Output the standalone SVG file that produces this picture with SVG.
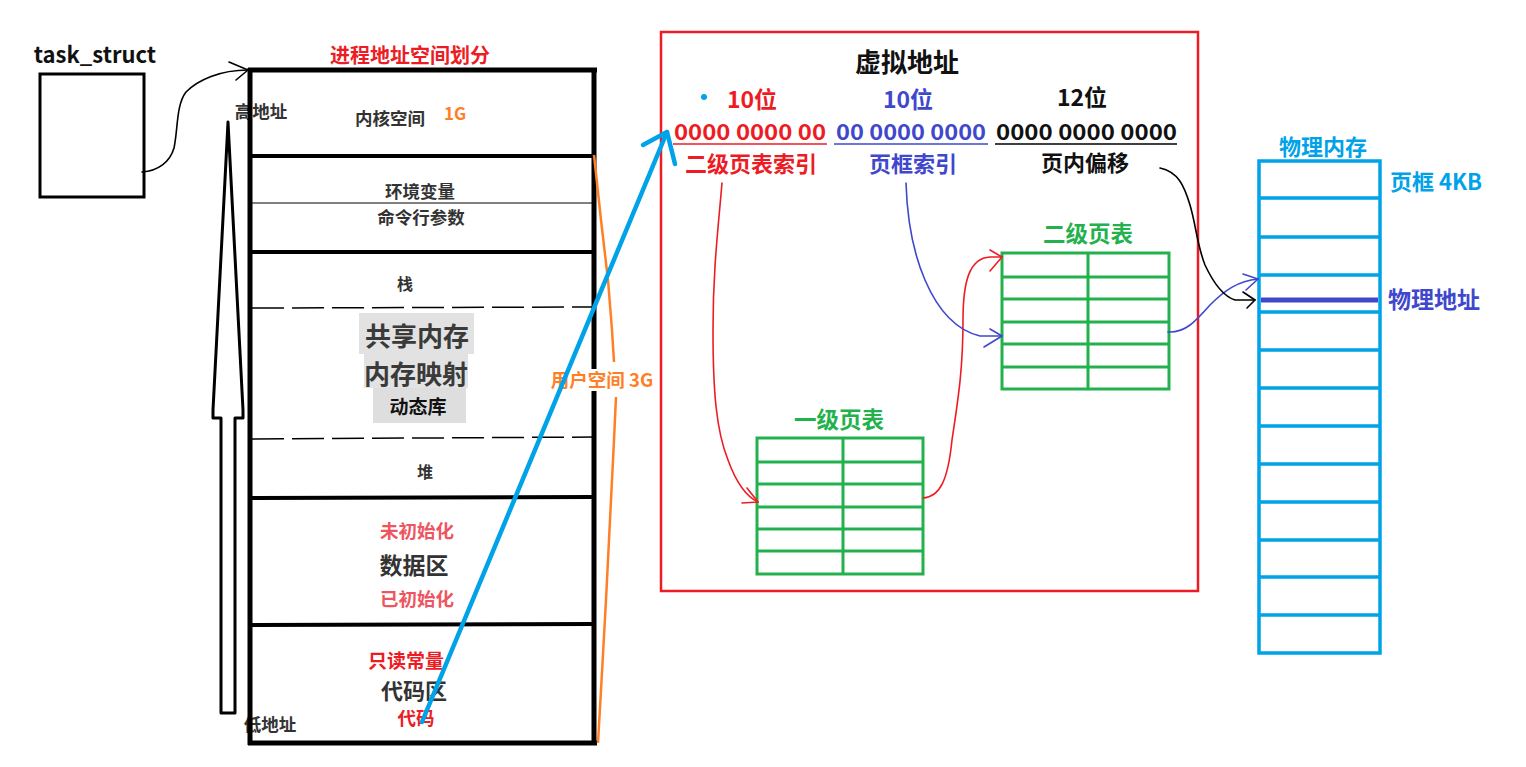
<svg xmlns="http://www.w3.org/2000/svg" width="1526" height="767" viewBox="0 0 1526 767">
<defs>
<style>
text{font-family:"Noto Sans CJK SC","Noto Sans",sans-serif;font-weight:bold;dominant-baseline:central}
.c{text-anchor:middle}
.blk{fill:#111}
.dg{fill:#333}
.red{fill:#ed1c24}
.pink{fill:#ee5560}
.blu{fill:#3f48cc}
.sky{fill:#00a2e8}
.grn{fill:#22b14c}
.org{fill:#ff7f27}
.thick{stroke:#000;stroke-width:5;fill:none}
.thin{stroke:#000;stroke-width:1.2;fill:none}
.dash{stroke:#000;stroke-width:1.5;fill:none;stroke-dasharray:32 8}
.gt{stroke:#22b14c;stroke-width:3;fill:none}
.mt{stroke:#00a2e8;stroke-width:3.5;fill:none}
.cr{fill:none;stroke-width:1.6;stroke-linecap:round;stroke-linejoin:round}
</style>
</defs>
<rect width="1526" height="767" fill="#fff"/>

<g id="task_struct">
<rect x="40" y="74" width="104" height="123" fill="none" stroke="#000" stroke-width="3"/>
<text x="95" y="53" class="c blk" font-size="22">task_struct</text>
</g>

<g id="address-arrow">
<polygon points="228,122 243,410 243,418 235,418 235,713 221,713 221,418 213,418 213,410" fill="#fff" stroke="#000" stroke-width="3" stroke-linejoin="round"/>
<text x="261" y="110" class="c dg" font-size="17.5">高地址</text>
<text x="270" y="723" class="c dg" font-size="17.5">低地址</text>
</g>

<g id="process-space">
<text x="410" y="54" class="c" fill="#ed1c24" font-size="20">进程地址空间划分</text>
<line x1="248" y1="70" x2="597" y2="70" class="thick"/>
<line x1="250" y1="68" x2="250" y2="745" class="thick"/>
<line x1="594" y1="68" x2="594" y2="745" class="thick"/>
<line x1="248" y1="743" x2="597" y2="743" class="thick"/>
<line x1="250" y1="156" x2="594" y2="156" stroke="#000" stroke-width="4"/>
<line x1="250" y1="203" x2="594" y2="203" class="thin"/>
<line x1="250" y1="252" x2="594" y2="252" stroke="#000" stroke-width="4"/>
<line x1="252" y1="308" x2="594" y2="307" class="dash"/>
<line x1="252" y1="439" x2="594" y2="437" class="dash"/>
<line x1="250" y1="498" x2="594" y2="497" stroke="#000" stroke-width="4"/>
<line x1="250" y1="625" x2="594" y2="624" stroke="#000" stroke-width="4"/>
<text x="390" y="117" class="c dg" font-size="17.5">内核空间</text>
<text x="455" y="112" class="c org" font-size="17">1G</text>
<text x="420" y="190" class="c dg" font-size="17.5">环境变量</text>
<text x="421" y="216" class="c dg" font-size="17.5">命令行参数</text>
<text x="405" y="283" class="c dg" font-size="16">栈</text>
<rect x="359" y="313" width="115" height="41" fill="#e2e2e2"/>
<rect x="364" y="354" width="104" height="34" fill="#e2e2e2"/>
<rect x="373" y="388" width="93" height="35" fill="#dedede"/>
<text x="417" y="334" class="c" fill="#3a3a3a" font-size="26">共享内存</text>
<text x="416" y="372" class="c" fill="#3a3a3a" font-size="26">内存映射</text>
<text x="418" y="405" class="c blk" font-size="19">动态库</text>
<text x="425" y="471" class="c dg" font-size="16">堆</text>
<text x="417" y="530" class="c pink" font-size="18.5" font-weight="normal">未初始化</text>
<text x="414" y="564" class="c dg" font-size="23">数据区</text>
<text x="417" y="598" class="c pink" font-size="18.5" font-weight="normal">已初始化</text>
<text x="406" y="659" class="c red" font-size="19">只读常量</text>
<text x="414" y="689" class="c dg" font-size="22">代码区</text>
<text x="416" y="717" class="c red" font-size="18.5">代码</text>
<polyline points="594,155 601,220 608,280 612,330 614,362" fill="none" stroke="#ff7f27" stroke-width="2.5"/>
<polyline points="616,397 614,440 611,500 606,600 601,690 598,743" fill="none" stroke="#ff7f27" stroke-width="2.5"/>
<rect x="549" y="369" width="106" height="22" fill="#fff"/>
<text x="602" y="379" class="c org" font-size="18.5">用户空间 3G</text>
</g>

<g id="virtual-address">
<rect x="661" y="32" width="537" height="559" fill="none" stroke="#ed1c24" stroke-width="2.5"/>
<text x="907" y="60" class="c blk" font-size="26">虚拟地址</text>
<circle cx="704" cy="97" r="3" fill="#00a2e8"/>
<text x="752" y="98" class="c red" font-size="23">10位</text>
<text x="908" y="98" class="c blu" font-size="23">10位</text>
<text x="1082" y="96" class="c blk" font-size="23">12位</text>
<text x="674" y="130" class="red" font-size="22" font-weight="500" textLength="152" lengthAdjust="spacingAndGlyphs">0000 0000 00</text>
<text x="836" y="130" class="blu" font-size="22" font-weight="500" textLength="150" lengthAdjust="spacingAndGlyphs">00 0000 0000</text>
<text x="996" y="130" class="blk" font-size="22" font-weight="500" textLength="181" lengthAdjust="spacingAndGlyphs">0000 0000 0000</text>
<line x1="673" y1="144" x2="827" y2="144" stroke="#ed1c24" stroke-width="1.5"/>
<line x1="834" y1="144" x2="988" y2="144" stroke="#3f48cc" stroke-width="1.5"/>
<line x1="995" y1="144" x2="1177" y2="144" stroke="#000" stroke-width="1.5"/>
<text x="751" y="162" class="c red" font-size="22">二级页表索引</text>
<text x="913" y="162" class="c blu" font-size="22">页框索引</text>
<text x="1085" y="161" class="c blk" font-size="22">页内偏移</text>
</g>

<g id="level1-table">
<text x="839" y="418" class="c grn" font-size="22.5">一级页表</text>
<rect x="757" y="438" width="166" height="136" class="gt"/>
<path d="M757 462H923M757 484H923M757 507H923M757 529H923M757 551H923M843 438V575" class="gt"/>
</g>

<g id="level2-table">
<text x="1088" y="232" class="c grn" font-size="22.5">二级页表</text>
<rect x="1002" y="253" width="167" height="136" class="gt"/>
<path d="M1002 277H1169M1002 299H1169M1002 322H1169M1002 344H1169M1002 367H1169M1088 253V390" class="gt"/>
</g>

<g id="physical-memory">
<text x="1323" y="145" class="c sky" font-size="22">物理内存</text>
<rect x="1259" y="161" width="121" height="492" class="mt"/>
<path d="M1259 198H1380M1259 237H1380M1259 275H1380M1259 312H1380M1259 350H1380M1259 388H1380M1259 426H1380M1259 464H1380M1259 502H1380M1259 540H1380M1259 577H1380M1259 615H1380" class="mt"/>
<line x1="1261" y1="300" x2="1378" y2="300" stroke="#3f48cc" stroke-width="5"/>
<text x="1390" y="180" class="sky" font-size="22">页框 4KB</text>
<text x="1388" y="298" class="blu" font-size="23">物理地址</text>
</g>

<g id="connectors">
<path d="M142,172 C158,171 170,162 174,148 C178,130 176,105 186,92 C198,80 220,70 248,70" class="cr" stroke="#000"/>
<path d="M229,62 L248,70 L236,80" class="cr" stroke="#000"/>
<line x1="422" y1="722" x2="667" y2="132" stroke="#00a2e8" stroke-width="4.5" stroke-linecap="round"/>
<path d="M643,145 L667,132 L675,164" fill="none" stroke="#00a2e8" stroke-width="4.5" stroke-linecap="round" stroke-linejoin="round"/>
<path d="M722,183 C718,230 713,270 713,330 C713,390 716,430 728,460 C736,482 745,496 758,502" class="cr" stroke="#ed1c24"/>
<path d="M742,503 L758,502 L747,488" class="cr" stroke="#ed1c24"/>
<path d="M923,498 C940,497 948,480 952,440 C958,400 963,370 963,320 C963,280 970,258 990,257 L1002,257" class="cr" stroke="#ed1c24"/>
<path d="M990,250 L1002,257 L990,271" class="cr" stroke="#ed1c24"/>
<path d="M906,183 C907,215 912,250 925,280 C937,308 955,330 980,336 L1002,336" class="cr" stroke="#3f48cc"/>
<path d="M990,329 L1002,336 L984,347" class="cr" stroke="#3f48cc"/>
<path d="M1168,332 C1185,333 1195,322 1210,305 C1225,290 1238,281 1258,279" class="cr" stroke="#3f48cc"/>
<path d="M1243,274 L1258,279 L1246,290" class="cr" stroke="#3f48cc"/>
<path d="M1160,168 C1178,172 1184,185 1190,205 C1196,225 1197,245 1205,265 C1213,282 1222,296 1235,300 L1255,300" class="cr" stroke="#000"/>
<path d="M1243,292 L1255,300 L1247,308" class="cr" stroke="#000"/>
</g>
</svg>
